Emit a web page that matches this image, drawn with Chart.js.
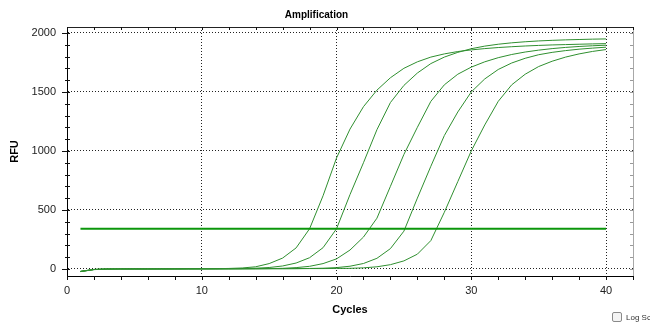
<!DOCTYPE html>
<html>
<head>
<meta charset="utf-8">
<title>Amplification</title>
<script src="https://cdn.jsdelivr.net/npm/chart.js@4.4.1/dist/chart.umd.min.js"></script>
<style>
  html, body { margin: 0; padding: 0; background: #fff; overflow: hidden; }
  #wrap { position: relative; width: 650px; height: 327px; overflow: hidden; }
  #logScale { position: absolute; left: 612px; top: 312px; font: 8px "Liberation Sans", Arial, sans-serif; color: #333; white-space: nowrap; display: flex; align-items: center; }
  #logScale .box { width: 8px; height: 8px; border: 1px solid #8a8a8a; border-radius: 2px; background: #f4f4f4; margin-right: 4px; }
</style>
</head>
<body>
<div id="wrap">
  <canvas id="ampChart" width="650" height="327"></canvas>
  <div id="logScale"><span class="box"></span>Log Scale</div>
</div>
<script>
const ciclos = [1,2,3,4,5,6,7,8,9,10,11,12,13,14,15,16,17,18,19,20,21,22,23,24,25,26,27,28,29,30,31,32,33,34,35,36,37,38,39,40];

const curva1 = [-22,-5,-1,0,0,0,1,1,1,1,2,4,8,18,45,92,178,340,620,940,1185,1375,1515,1620,1700,1755,1795,1822,1842,1856,1867,1876,1883,1889,1894,1898,1901,1904,1907,1909];
const curva2 = [-20,-4,-1,0,0,0,0,1,1,1,1,2,3,6,12,25,50,95,180,340,630,900,1180,1410,1555,1660,1740,1795,1835,1866,1888,1904,1916,1925,1932,1937,1941,1944,1947,1949];
const curva3 = [-21,-5,-1,0,0,0,0,0,1,1,1,1,2,2,3,5,11,22,45,85,160,270,430,700,970,1200,1420,1560,1650,1710,1755,1790,1817,1838,1854,1867,1877,1885,1891,1896];
const curva4 = [-23,-6,-1,0,0,0,0,0,1,1,1,1,1,2,2,2,3,4,6,11,23,46,90,172,320,600,870,1130,1330,1500,1610,1690,1745,1785,1815,1835,1850,1862,1871,1879];
const curva5 = [-22,-5,-1,0,0,0,0,0,0,1,1,1,1,1,2,2,2,3,3,4,5,9,18,36,68,125,240,480,740,1000,1220,1420,1560,1650,1715,1760,1795,1822,1843,1859];
const limiar = 340;

const xTickLabels = [0, 10, 20, 30, 40];
const yTickLabels = [0, 500, 1000, 1500, 2000];

const fonte = '"Liberation Sans", Arial, sans-serif';
const corCurva = '#2f8f2f';

function pontos(valores) {
    return ciclos.map((c, i) => ({ x: c, y: valores[i] }));
}

// marcas a cada 100 RFU (so as de 500 levam rotulo)
function marcasY(scale) {
    const marcas = [];
    for (let v = 0; v <= 2000; v += 100) marcas.push({ value: v });
    scale.ticks = marcas;
}

// moldura de cima/direita e marcas dos eixos
const molduraPlugin = {
    id: 'moldura',
    afterDraw(chart) {
        const { ctx, chartArea: a, scales: { x, y } } = chart;
        const linha = (x1, y1, x2, y2) => {
            ctx.beginPath();
            ctx.moveTo(x1, y1);
            ctx.lineTo(x2, y2);
            ctx.stroke();
        };
        ctx.save();
        ctx.lineWidth = 1;
        ctx.strokeStyle = '#222';
        linha(a.left, a.top + 0.5, a.right, a.top + 0.5);
        ctx.strokeStyle = '#a8a8a8';
        linha(a.right + 0.5, a.top, a.right + 0.5, a.bottom + 1);

        x.ticks.forEach(t => {
            const px = Math.round(x.getPixelForValue(t.value)) + 0.5;
            ctx.strokeStyle = '#111';
            linha(px, a.bottom, px, a.bottom + 4);
            linha(px, a.top, px, a.top + 3);
        });
        y.ticks.forEach(t => {
            const py = Math.round(y.getPixelForValue(t.value)) + 0.5;
            const major = yTickLabels.includes(t.value);
            ctx.strokeStyle = '#111';
            linha(major ? a.left - 5 : a.left - 2, py, a.left + 3, py);
            ctx.strokeStyle = '#999';
            linha(a.right - 3, py, a.right, py);
        });
        ctx.restore();
    }
};

const ctx = document.getElementById('ampChart').getContext('2d');
const chart = new Chart(ctx, {
    type: 'line',
    data: {
        datasets: [
            {
                label: 'Threshold',
                data: [{ x: ciclos[0], y: limiar }, { x: ciclos[ciclos.length - 1], y: limiar }],
                borderColor: '#0b960b',
                borderWidth: 2
            },
            { label: 'A1', data: pontos(curva1), borderColor: corCurva, borderWidth: 1 },
            { label: 'A2', data: pontos(curva2), borderColor: corCurva, borderWidth: 1 },
            { label: 'A3', data: pontos(curva3), borderColor: corCurva, borderWidth: 1 },
            { label: 'A4', data: pontos(curva4), borderColor: corCurva, borderWidth: 1 },
            { label: 'A5', data: pontos(curva5), borderColor: corCurva, borderWidth: 1 }
        ]
    },
    options: {
        responsive: false,
        animation: false,
        elements: { point: { radius: 0 }, line: { tension: 0, fill: false } },
        layout: { padding: { left: 0, right: 17, top: 0, bottom: 0 } },
        plugins: {
            legend: { display: false },
            tooltip: { enabled: false },
            title: {
                display: true,
                text: 'Amplification',
                color: '#000',
                font: { family: fonte, size: 10, weight: 'bold' },
                padding: { top: 9, bottom: 6 }
            }
        },
        scales: {
            x: {
                type: 'linear',
                min: 0,
                max: 42,
                afterFit: s => { s.height = 51; },
                ticks: {
                    stepSize: 2,
                    autoSkip: false,
                    maxRotation: 0,
                    padding: 8,
                    color: '#222',
                    font: { family: fonte, size: 11 },
                    callback: v => xTickLabels.includes(v) ? String(v) : ''
                },
                grid: {
                    drawTicks: false,
                    lineWidth: 1,
                    color: c => (c.tick && xTickLabels.includes(c.tick.value) && c.tick.value > 0) ? '#222' : 'rgba(0,0,0,0)'
                },
                border: { display: true, color: '#000', width: 1, dash: [1, 2] },
                title: {
                    display: true,
                    text: 'Cycles',
                    color: '#000',
                    font: { family: fonte, size: 11, weight: 'bold' },
                    padding: { top: 0, bottom: 10 }
                }
            },
            y: {
                type: 'linear',
                min: -60,
                max: 2050,
                afterFit: s => { s.width = 67; },
                afterBuildTicks: marcasY,
                ticks: {
                    autoSkip: false,
                    padding: 11,
                    color: '#222',
                    font: { family: fonte, size: 11 },
                    callback: v => yTickLabels.includes(v) ? String(v) : ''
                },
                grid: {
                    drawTicks: false,
                    lineWidth: 1,
                    color: c => (c.tick && yTickLabels.includes(c.tick.value)) ? '#222' : 'rgba(0,0,0,0)'
                },
                border: { display: true, color: '#000', width: 1, dash: [1, 2] },
                title: {
                    display: true,
                    text: 'RFU',
                    color: '#000',
                    font: { family: fonte, size: 11, weight: 'bold' },
                    padding: { top: 8, bottom: 0 }
                }
            }
        }
    },
    plugins: [molduraPlugin]
});
</script>
</body>
</html>
